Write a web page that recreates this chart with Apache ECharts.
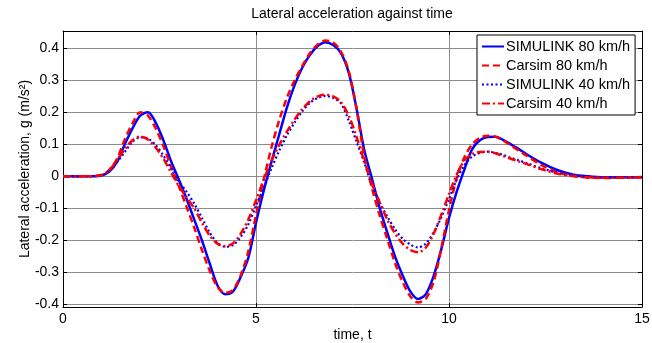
<!DOCTYPE html>
<html>
<head>
<meta charset="utf-8">
<script src="https://cdn.jsdelivr.net/npm/echarts@6/dist/echarts.min.js"></script>
<style>
  html, body { margin: 0; padding: 0; background: #fff; }
  #chart { width: 652px; height: 343px; }
</style>
</head>
<body>
<div id="chart"></div>
<script>
// Sample times (s)
const times = [0, 0.5, 1.0, 1.2, 1.4, 1.6, 1.8, 2.0, 2.2, 2.4, 2.6, 2.8, 3.0, 3.2, 3.4, 3.6, 3.8, 4.0,
  4.2, 4.4, 4.6, 4.8, 5.0, 5.2, 5.4, 5.6, 5.8, 6.0, 6.2, 6.4, 6.6, 6.8, 7.0, 7.2, 7.4, 7.6, 7.8, 8.0,
  8.2, 8.4, 8.6, 8.8, 9.0, 9.2, 9.4, 9.6, 9.8, 10.0, 10.2, 10.4, 10.6, 10.8, 11.0, 11.2, 11.4, 11.6,
  11.8, 12.0, 12.4, 12.8, 13.2, 13.6, 14.0, 14.5, 15.0];

// Lateral acceleration (g), SIMULINK model at 80 km/h
const simulink80 = [0, 0, 0.003, 0.015, 0.045, 0.1, 0.15, 0.19, 0.2, 0.168, 0.113, 0.047, -0.01, -0.07,
  -0.135, -0.2, -0.272, -0.34, -0.368, -0.36, -0.315, -0.255, -0.145, -0.045, 0.045, 0.13, 0.215, 0.285,
  0.34, 0.38, 0.407, 0.419, 0.41, 0.385, 0.325, 0.215, 0.085, -0.005, -0.097, -0.175, -0.25, -0.31,
  -0.36, -0.383, -0.368, -0.312, -0.228, -0.13, -0.048, 0.022, 0.085, 0.113, 0.123, 0.124, 0.114, 0.1,
  0.086, 0.07, 0.042, 0.02, 0.006, 0, -0.003, -0.003, -0.002];

// CarSim reference at 80 km/h
const carsim80 = [0, 0, 0.004, 0.02, 0.055, 0.115, 0.165, 0.2, 0.19, 0.15, 0.095, 0.03, -0.03, -0.095,
  -0.16, -0.23, -0.295, -0.345, -0.364, -0.355, -0.31, -0.235, -0.12, -0.01, 0.09, 0.175, 0.245, 0.3,
  0.345, 0.385, 0.412, 0.424, 0.418, 0.39, 0.33, 0.215, 0.065, -0.035, -0.12, -0.195, -0.27, -0.33,
  -0.375, -0.394, -0.382, -0.33, -0.225, -0.105, -0.005, 0.06, 0.1, 0.12, 0.127, 0.124, 0.112, 0.097,
  0.081, 0.065, 0.035, 0.013, 0.002, -0.004, -0.005, -0.004, -0.003];

// SIMULINK model at 40 km/h
const simulink40 = [0, 0, 0.003, 0.018, 0.045, 0.076, 0.108, 0.122, 0.118, 0.098, 0.065, 0.025, -0.015,
  -0.048, -0.085, -0.13, -0.175, -0.208, -0.22, -0.215, -0.19, -0.15, -0.092, -0.035, 0.025, 0.08,
  0.128, 0.168, 0.203, 0.23, 0.245, 0.251, 0.245, 0.228, 0.175, 0.11, 0.045, -0.025, -0.08, -0.125,
  -0.165, -0.195, -0.213, -0.222, -0.21, -0.175, -0.128, -0.07, -0.01, 0.035, 0.062, 0.073, 0.077,
  0.074, 0.067, 0.058, 0.05, 0.042, 0.025, 0.012, 0.003, -0.002, -0.003, -0.003, -0.002];

// CarSim reference at 40 km/h
const carsim40 = [0, 0, 0.004, 0.02, 0.05, 0.085, 0.113, 0.124, 0.115, 0.09, 0.055, 0.012, -0.03, -0.065,
  -0.1, -0.145, -0.185, -0.21, -0.218, -0.21, -0.18, -0.135, -0.075, -0.01, 0.048, 0.098, 0.14, 0.178,
  0.21, 0.235, 0.25, 0.255, 0.25, 0.232, 0.19, 0.125, 0.05, -0.02, -0.08, -0.135, -0.178, -0.21, -0.23,
  -0.237, -0.222, -0.18, -0.12, -0.055, 0.005, 0.05, 0.07, 0.076, 0.077, 0.072, 0.064, 0.055, 0.047,
  0.039, 0.022, 0.009, 0.001, -0.003, -0.004, -0.004, -0.003];

const seriesNames = ['SIMULINK 80 km/h', 'Carsim 80 km/h', 'SIMULINK 40 km/h', 'Carsim 40 km/h'];
const xTicks = [0, 5, 10, 15];

const FONT = 'Liberation Sans, Arial, Helvetica, sans-serif';
const GRID_COLOR = '#8c8c8c';

const pair = vals => times.map((t, i) => [t, vals[i]]);

const chart = echarts.init(document.getElementById('chart'), null, { renderer: 'canvas' });

// Labels only on multiples of 0.1 (edge ticks at the axis extent stay blank)
const yFmt = v => {
  const r = Math.round(v * 10);
  return Math.abs(v * 10 - r) < 1e-6 ? String(r / 10) : '';
};

const yBase = {
  type: 'value', min: -0.408, max: 0.454, minInterval: 0.1, maxInterval: 0.1, splitNumber: 9
};
const xBase = { type: 'value', min: xTicks[0], max: xTicks[xTicks.length - 1], interval: 5 };

function lineSeries(name, vals, color, width, dash) {
  return {
    name, type: 'line', data: pair(vals), symbol: 'none', smooth: 0.3,
    xAxisIndex: 0, yAxisIndex: 0,
    itemStyle: { color },
    lineStyle: { color, width, type: dash, cap: 'butt' },
    emphasis: { disabled: true },
    z: 3
  };
}

chart.setOption({
  animation: false,
  backgroundColor: '#fff',
  grid: { left: 63, right: 10, top: 31, bottom: 36, containLabel: false, outerBoundsMode: 'none' },
  graphic: [{
    type: 'text', x: 352, y: 14,
    style: { text: 'Lateral acceleration against time', align: 'center', verticalAlign: 'middle',
      fontSize: 14, fontFamily: FONT, fill: '#000' }
  }],
  legend: {
    orient: 'vertical', left: 477, top: 35,
    backgroundColor: '#fff', borderColor: '#000', borderWidth: 1,
    padding: [4, 5, 4, 4], itemWidth: 22, itemHeight: 14, itemGap: 4,
    itemStyle: { opacity: 0 },
    textStyle: { fontSize: 14.5, fontFamily: FONT, color: '#000', padding: [0, 0, 0, -3] },
    data: seriesNames
  },
  xAxis: [
    Object.assign({}, xBase, {
      position: 'bottom',
      name: 'time, t', nameLocation: 'middle', nameGap: 21, nameMoveOverlap: false,
      nameTextStyle: { fontSize: 14, fontFamily: FONT, color: '#000' },
      axisLine: { show: true, onZero: false, lineStyle: { color: '#000', width: 1 } },
      axisTick: { show: true, inside: true, length: 4, lineStyle: { color: '#000' } },
      axisLabel: { fontSize: 14, fontFamily: FONT, color: '#000', margin: 5 },
      splitLine: { show: true, lineStyle: { color: GRID_COLOR, width: 1 } }
    }),
    Object.assign({}, xBase, {
      position: 'top',
      axisLine: { show: true, onZero: false, lineStyle: { color: '#000', width: 1 } },
      axisTick: { show: true, inside: true, length: 4, lineStyle: { color: '#000' } },
      axisLabel: { show: false },
      splitLine: { show: false }
    })
  ],
  yAxis: [
    Object.assign({}, yBase, {
      position: 'left',
      name: 'Lateral acceleration, g (m/s²)', nameLocation: 'middle', nameGap: 31, nameMoveOverlap: false,
      nameTextStyle: { fontSize: 14, fontFamily: FONT, color: '#000' },
      axisLine: { show: true, onZero: false, lineStyle: { color: '#000', width: 1 } },
      axisTick: { show: true, inside: true, length: 4, lineStyle: { color: '#000' } },
      axisLabel: { fontSize: 14, fontFamily: FONT, color: '#000', margin: 4, formatter: yFmt },
      splitLine: { show: true, lineStyle: { color: GRID_COLOR, width: 1 } }
    }),
    Object.assign({}, yBase, {
      position: 'right',
      axisLine: { show: true, onZero: false, lineStyle: { color: '#000', width: 1 } },
      axisTick: { show: true, inside: true, length: 4, lineStyle: { color: '#000' } },
      axisLabel: { show: false },
      splitLine: { show: false }
    })
  ],
  series: [
    lineSeries(seriesNames[0], simulink80, '#0000ff', 2.5, 'solid'),
    lineSeries(seriesNames[1], carsim80, '#ff0000', 2.5, [7, 4]),
    lineSeries(seriesNames[2], simulink40, '#0000ff', 2.2, [2, 2.5]),
    lineSeries(seriesNames[3], carsim40, '#ff0000', 2.5, [8, 3, 2, 3])
  ]
});
</script>
</body>
</html>
